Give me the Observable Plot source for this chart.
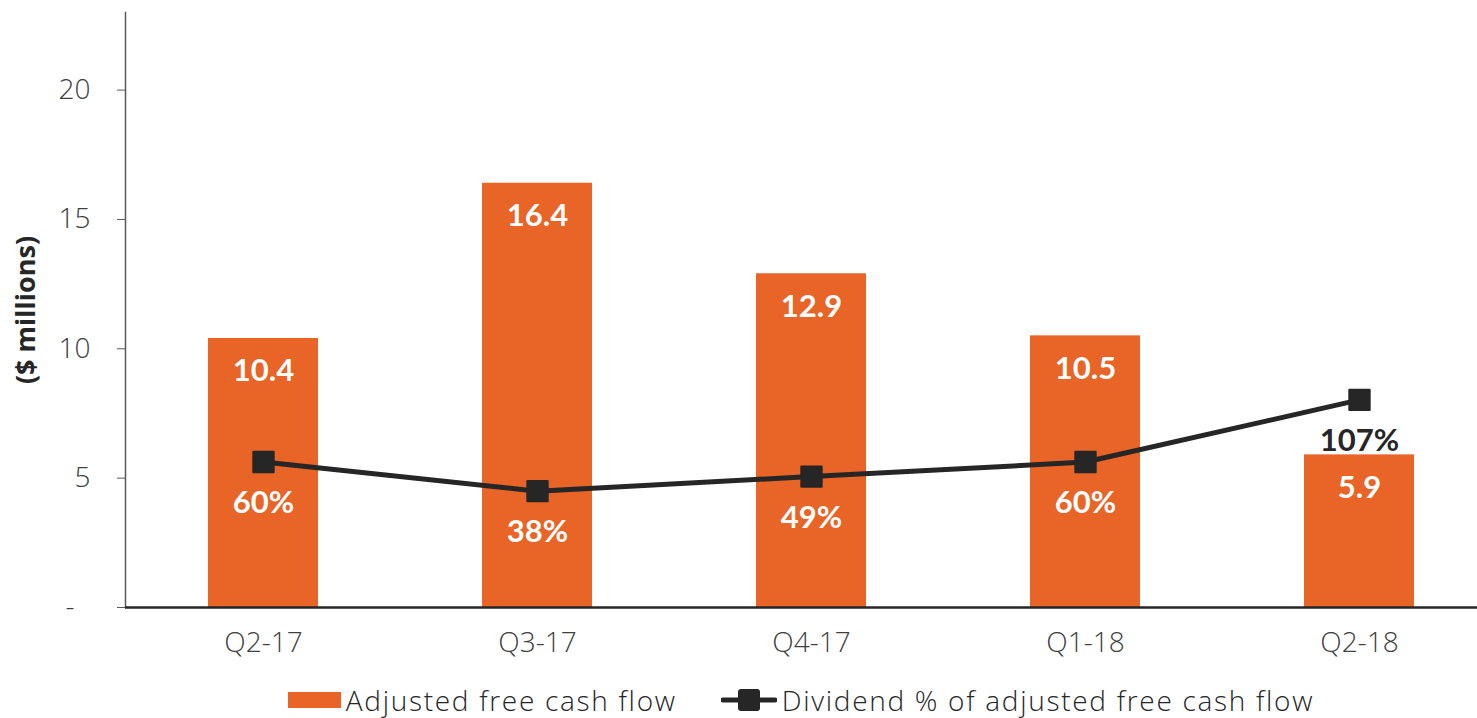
<!DOCTYPE html>
<html>
<head>
<meta charset="utf-8">
<script src="https://cdn.jsdelivr.net/npm/d3@7"></script>
<script src="https://cdn.jsdelivr.net/npm/@observablehq/plot@0.6"></script>
<style>
  body { margin: 0; background: #fff; font-family: "Open Sans", Lato, sans-serif; }
  #chart svg { display: block; }
  g[aria-label="x-axis tick label"], g[aria-label="y-axis tick label"] {
    font-family: "Open Sans", Lato, sans-serif; font-size: 28px; font-weight: 300; fill: #404040; }
  g[aria-label="y-axis label"] { font-family: "Open Sans", Lato, sans-serif; font-size: 27px; font-weight: bold; fill: #262626; }
  .legend { display: flex; justify-content: center; align-items: center; margin-left: 125px; gap: 44px;
            font-family: "Open Sans", Lato, sans-serif; font-size: 28px; font-weight: 300; letter-spacing: 1.7px;
            color: #262626; height: 40px; margin-top: 8px; }
  .legend .item { display: flex; align-items: center; gap: 5px; }
</style>
</head>
<body>
<div id="chart"></div>
<div class="legend">
  <div class="item"><svg width="53" height="16"><rect width="53" height="16" fill="#E86427"></rect></svg><span>Adjusted free cash flow</span></div>
  <div class="item"><svg width="56" height="24"><line x1="2" y1="12" x2="54" y2="12" stroke="#262626" stroke-width="5" stroke-linecap="round"></line><rect x="17" y="1" width="22" height="22" rx="3" fill="#262626"></rect></svg><span>Dividend % of adjusted free cash flow</span></div>
</div>
<script>
const quarters = ["Q2-17", "Q3-17", "Q4-17", "Q1-18", "Q2-18"];
const cashFlow = [10.4, 16.4, 12.9, 10.5, 5.9];
const dividendPct = [60, 38, 49, 60, 107];
const yTicks = [0, 5, 10, 15, 20];

// secondary (hidden) axis: -50% .. 400% mapped onto the 0 .. 23 primary axis
const yMax = 23, pctMin = -50, pctMax = 400;
const pctToY = p => (p - pctMin) / (pctMax - pctMin) * yMax;

const data = quarters.map((q, i) => ({ q, v: cashFlow[i], p: dividendPct[i], py: pctToY(dividendPct[i]) }));

const orange = "#E86427", dark = "#262626";

const chart = Plot.plot({
  width: 1477,
  height: 672,
  marginLeft: 125,
  marginRight: 0,
  marginTop: 12,
  marginBottom: 65,
  style: { fontFamily: "'Open Sans', Lato, sans-serif", background: "#fff" },
  x: { domain: quarters, range: [125, 1496], paddingInner: 0.6, paddingOuter: 0.3 },
  y: { domain: [0, yMax] },
  marks: [
    Plot.barY(data, { x: "q", y: "v", fill: orange }),
    Plot.frame({ anchor: "left", stroke: "#595959", strokeWidth: 1.5 }),
    Plot.ruleY([0], { stroke: dark, strokeWidth: 2.5 }),
    Plot.axisY({ ticks: yTicks, tickFormat: d => d === 0 ? "-\u2007" : d, tickSize: 8, tickPadding: 27,
                 stroke: "#595959",
                 label: "($ millions)", labelAnchor: "center", labelArrow: "none", labelOffset: 110 }),
    Plot.axisX({ tickSize: 0, tickPadding: 25, label: null }),
    Plot.text(data, { x: "q", y: "v", text: d => d.v.toFixed(1), dy: 33, fill: "#fff",
                      fontFamily: "Lato, sans-serif", fontSize: 31, fontWeight: "bold" }),
    Plot.lineY(data, { x: "q", y: "py", stroke: dark, strokeWidth: 5 }),
    Plot.dot(data, { x: "q", y: "py", symbol: "square", r: 11.5, fill: dark, stroke: dark,
                     strokeWidth: 2, strokeLinejoin: "round" }),
    Plot.text(data, { x: "q", y: "py", text: d => d.p + "%", dy: 41,
                      fill: d => (d.py - 1.6 < d.v ? "#fff" : dark),
                      fontFamily: "Lato, sans-serif", fontSize: 31, fontWeight: "bold" })
  ]
});
document.getElementById("chart").appendChild(chart);
</script>
</body>
</html>
